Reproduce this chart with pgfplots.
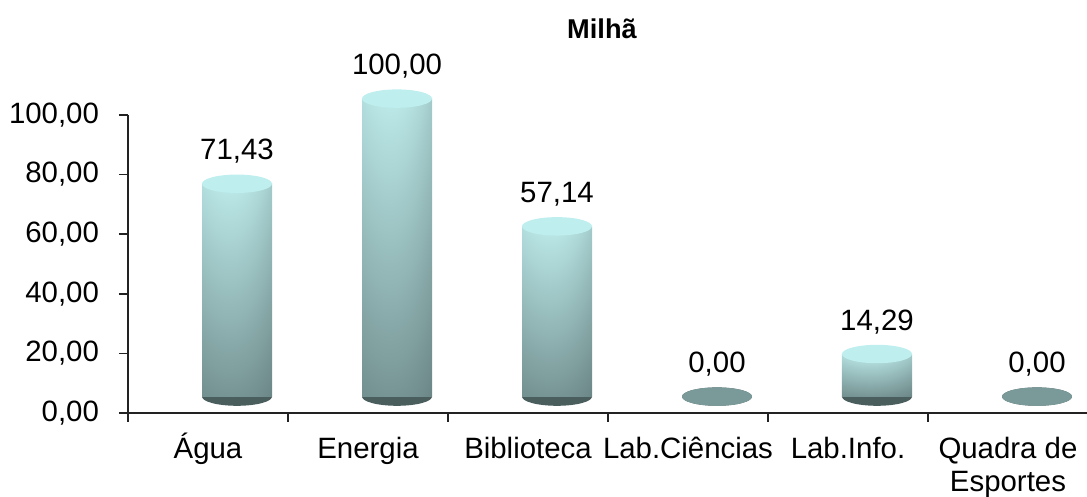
\documentclass[border=0pt]{standalone}
\usepackage{pgfplots}
\usepackage{pgfplotstable}
\pgfplotsset{compat=1.18}
\usepackage{fontspec}
\setmainfont{Liberation Sans}
\definecolor{topc}{HTML}{BEEEEE}
\definecolor{zeroc}{HTML}{7A9A9A}
\definecolor{basec}{HTML}{4A5E5E}
\definecolor{axc}{HTML}{222222}
\pgfdeclarefunctionalshading{cyl}{\pgfpoint{-50bp}{-50bp}}{\pgfpoint{50bp}{50bp}}{}{
  50 add 100 div exch
  5 add dup 0 lt {55 div} {50 div} ifelse
  dup mul 0.55 mul 1 exch sub
  exch 0.95 mul 0.18 add dup 1 gt {pop 1} if mul
  dup 0.57 mul 0.23 add exch dup 0.70 mul 0.29 add exch 0.70 mul 0.29 add
}
\pgfdeclareplotmark{ell}{\pgfpathellipse{\pgfpointorigin}{\pgfqpoint{17.5pt}{0pt}}{\pgfqpoint{0pt}{4.6pt}}\pgfusepathqfill}
\pgfplotstableread{
x val cls lab
0 71.43 t 71,43
1 100.00 t 100,00
2 57.14 t 57,14
3 0.00 z 0,00
4 14.29 t 14,29
5 0.00 z 0,00
}\data
\pgfplotsset{overlay/.style={
  at={(64pt,42pt)}, anchor=south west,
  scale only axis, width=480pt, height=149pt,
  xmin=-0.5, xmax=5.5, ymin=-5.5, ymax=94.5,
  hide axis, clip=false},
  cylbar/.style={ybar, bar width=35pt, bar shift=14.5pt, draw=none, shading=cyl}}
\begin{document}
\begin{tikzpicture}
\useasboundingbox (0,0) rectangle (543.5pt,248.5pt);
\begin{axis}[
  at={(64pt,42pt)}, anchor=south west,
  scale only axis, width=480pt, height=149pt,
  xmin=-0.5, xmax=5.5, ymin=0, ymax=100,
  axis lines*=left,
  axis line style={line width=0.8pt, axc},
  tick style={line width=0.8pt, axc},
  tick align=outside, major tick length=4.5pt,
  ytick={0,20,40,60,80,100},
  yticklabels={{0,00},{20,00},{40,00},{60,00},{80,00},{100,00}},
  xtick={-0.5,0.5,1.5,2.5,3.5,4.5,5.5},
  xticklabels={},
  extra x ticks={0,1,2,3,4,5},
  extra x tick labels={Água,Energia,Biblioteca,Lab.Ciências,Lab.Info.,{\begin{tabular}[t]{@{}c@{}}Quadra de\\Esportes\end{tabular}}},
  extra x tick style={major tick length=0pt, tick label style={anchor=base, yshift=-23pt}},
  tick label style={font=\fontsize{14.7}{16.5}\selectfont},
  yticklabel style={xshift=-6.5pt},
  title={Milhã},
  title style={font=\bfseries\fontsize{13.6}{16}\selectfont, anchor=base, at={(0.5,1)}, yshift=32pt, xshift=-3pt},
]
\end{axis}
\begin{axis}[overlay]
\addplot[only marks, mark=ell, mark options={fill=basec, draw=none}, xshift=14.5pt] table[x=x, y expr=0]{\data};
\end{axis}
\begin{axis}[overlay]
\addplot[cylbar] coordinates {(0,71.43)};
\addplot[cylbar] coordinates {(1,100.00)};
\addplot[cylbar] coordinates {(2,57.14)};
\addplot[cylbar] coordinates {(4,14.29)};
\addplot[scatter, only marks, scatter src=explicit symbolic,
  scatter/classes={t={mark=ell, fill=topc, draw=none}, z={mark=ell, fill=zeroc, draw=none}},
  xshift=14.5pt] table[x=x, y=val, meta=cls]{\data};
\addplot[draw=none, xshift=14.5pt, nodes near coords, point meta=explicit symbolic,
  every node near coord/.append style={anchor=base, yshift=12pt, font=\fontsize{14.7}{16.5}\selectfont, text=black}]
  table[x=x, y=val, meta=lab]{\data};
\end{axis}
\end{tikzpicture}
\end{document}
